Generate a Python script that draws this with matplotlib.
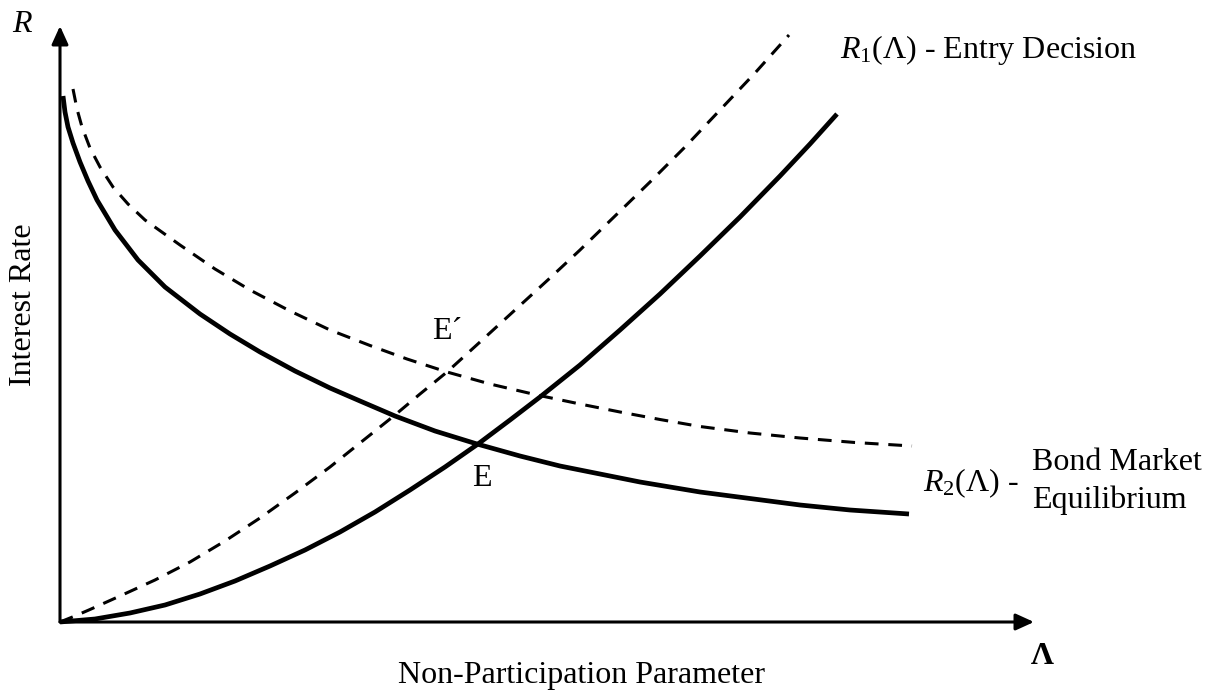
import matplotlib
matplotlib.use("Agg")
import matplotlib.pyplot as plt

plt.rcParams['font.family'] = ['Liberation Serif', 'DejaVu Serif']
plt.rcParams['mathtext.fontset'] = 'custom'
plt.rcParams['mathtext.rm'] = 'Liberation Serif'
plt.rcParams['mathtext.it'] = 'Liberation Serif:italic'

# Schematic curves, values (arbitrary units)
lam_r1_solid = [0.00, 0.35, 0.70, 1.05, 1.40, 1.75, 2.10, 2.45, 2.80, 3.15, 3.50, 3.85,
                4.18, 4.50, 4.80, 5.20, 5.60, 6.00, 6.40, 6.80, 7.20, 7.50, 7.77]
r1_solid     = [0.00, 0.03, 0.09, 0.17, 0.28, 0.41, 0.56, 0.72, 0.90, 1.10, 1.32, 1.55,
                1.78, 2.02, 2.25, 2.57, 2.92, 3.28, 3.66, 4.05, 4.46, 4.78, 5.08]

lam_r1_dash  = [0.00, 0.15, 0.30, 0.60, 0.95, 1.30, 1.65, 2.00, 2.35, 2.70, 3.00, 3.35, 3.60,
                3.87, 4.20, 4.55, 4.90, 5.20, 5.55, 5.90, 6.25, 6.60, 6.95, 7.29]
r1_dash      = [0.00, 0.06, 0.125, 0.26, 0.42, 0.60, 0.81, 1.04, 1.29, 1.55, 1.79, 2.07, 2.28,
                2.50, 2.80, 3.12, 3.44, 3.72, 4.06, 4.40, 4.75, 5.12, 5.49, 5.87]

lam_r2_solid = [0.03, 0.05, 0.08, 0.13, 0.20, 0.28, 0.37, 0.55, 0.78, 1.05, 1.40, 1.70, 2.00,
                2.35, 2.70, 3.00, 3.35, 3.75, 4.17, 4.60, 5.00, 5.80, 6.40, 7.40, 7.90, 8.49]
r2_solid     = [5.26, 5.10, 4.95, 4.79, 4.60, 4.41, 4.22, 3.92, 3.62, 3.35, 3.08, 2.88, 2.70,
                2.51, 2.34, 2.21, 2.06, 1.91, 1.78, 1.66, 1.56, 1.40, 1.30, 1.17, 1.12, 1.08]

lam_r2_dash  = [0.13, 0.17, 0.22, 0.30, 0.40, 0.53, 0.68, 0.85, 1.20, 1.55, 1.90, 2.30, 2.70,
                3.10, 3.47, 3.87, 4.30, 4.77, 5.20, 5.60, 6.00, 6.40, 6.90, 7.40, 7.95, 8.52]
r2_dash      = [5.33, 5.13, 4.95, 4.74, 4.55, 4.35, 4.18, 4.02, 3.77, 3.53, 3.32, 3.11, 2.92,
                2.765, 2.63, 2.50, 2.38, 2.27, 2.18, 2.10, 2.025, 1.955, 1.89, 1.84, 1.795, 1.76]

fig = plt.figure(figsize=(12.19, 6.92), dpi=100)
ax = fig.add_axes([0, 0, 1, 1])
ax.set_xlim(-0.60, 11.59)
ax.set_ylim(-0.70, 6.22)
ax.axis('off')

# axes with arrows
arrow = dict(arrowstyle='-|>,head_length=1.1,head_width=0.5',
             lw=2.2, color='black', shrinkA=0, shrinkB=0)
ax.annotate('', xy=(9.74, 0), xytext=(0, 0), arrowprops=arrow)
ax.annotate('', xy=(0, 5.96), xytext=(0, 0), arrowprops=arrow)

ax.plot(lam_r1_solid, r1_solid, color='black', lw=3.4, solid_capstyle='butt',
        solid_joinstyle='round')
ax.plot(lam_r2_solid, r2_solid, color='black', lw=3.4, solid_capstyle='butt',
        solid_joinstyle='round')
ax.plot(lam_r1_dash, r1_dash, color='black', lw=2.2, dashes=(4.5, 3.2))
ax.plot(lam_r2_dash, r2_dash, color='black', lw=2.2, dashes=(4.5, 3.2))

fs = 23
ax.text(-0.38, 5.97, 'R', fontsize=fs, style='italic', ha='center', va='center')
ax.text(-0.36, 3.17, 'Interest Rate', fontsize=fs, rotation=90, ha='center', va='center')
ax.text(5.22, -0.53, 'Non-Participation Parameter', fontsize=fs, ha='center', va='center')
ax.text(9.82, -0.35, 'Λ', fontsize=fs, fontweight='bold', ha='center', va='center')

ax.text(7.80, 5.72, r'$R_1$(Λ) - Entry Decision', fontsize=fs, ha='left', va='center')
ax.text(8.63, 1.39, r'$R_2$(Λ) -', fontsize=fs, ha='left', va='center')
ax.text(9.72, 1.60, 'Bond Market', fontsize=fs, ha='left', va='center')
ax.text(9.72, 1.22, 'Equilibrium', fontsize=fs, ha='left', va='center')

ax.text(4.22, 1.44, 'E', fontsize=fs, ha='center', va='center')
ax.text(3.87, 2.90, 'E´', fontsize=fs, ha='center', va='center')

fig.savefig('out.png', dpi=100)
